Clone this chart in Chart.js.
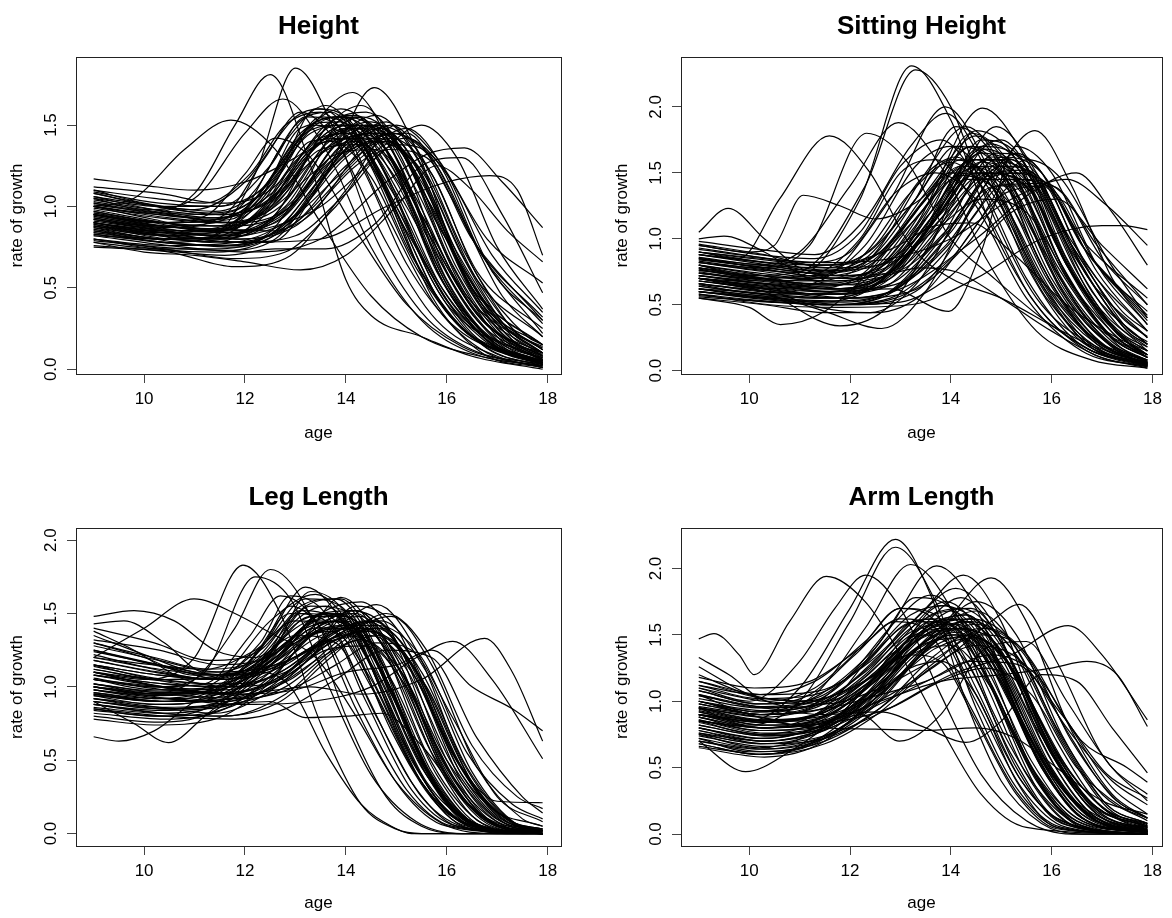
<!DOCTYPE html>
<html>
<head>
<meta charset="utf-8">
<script src="https://cdn.jsdelivr.net/npm/chart.js@4.4.1/dist/chart.umd.min.js"></script>
<style>
  body { margin: 0; background: #fff; }
  #wrap { position: relative; width: 1172px; height: 918px; }
  .panel { position: absolute; width: 586px; height: 459px; }
</style>
</head>
<body>
<div id="wrap">
  <div class="panel" style="left:0;top:0"><canvas id="c0" width="586" height="459"></canvas></div>
  <div class="panel" style="left:586px;top:0"><canvas id="c1" width="586" height="459"></canvas></div>
  <div class="panel" style="left:0;top:459px"><canvas id="c2" width="586" height="459"></canvas></div>
  <div class="panel" style="left:586px;top:459px"><canvas id="c3" width="586" height="459"></canvas></div>
</div>
<script>
const xTicks = [10, 12, 14, 16, 18];
const yTicksHeight = [0, 0.5, 1, 1.5];
const yTicksSitting = [0, 0.5, 1, 1.5, 2];
const yTicksLeg = [0, 0.5, 1, 1.5, 2];
const yTicksArm = [0, 0.5, 1, 1.5, 2];

const heightCurves = [
  [9,1.00, 10,0.96, 11,1.08, 11.8,1.50, 12.5,1.81, 13.3,1.25, 14,0.55, 14.5,0.33, 15.5,0.2, 16.5,0.08, 17.9,0.0],
  [9,0.92, 10.2,0.86, 11.3,0.82, 12.2,1.2, 13.0,1.85, 13.8,1.45, 14.6,0.8, 15.5,0.35, 16.5,0.12, 17.9,0.03],
  [9,0.88, 10.5,0.8, 12.5,0.78, 13.6,1.2, 14.56,1.73, 15.4,1.35, 16.3,0.6, 17.1,0.22, 17.9,0.08],
  [9,0.95, 10.4,0.9, 11.8,0.95, 13.2,1.45, 14.13,1.70, 15,1.3, 15.9,0.6, 16.8,0.2, 17.9,0.05],
  [9,1.05, 10,0.98, 11,1.05, 12,1.45, 12.75,1.66, 13.6,1.35, 14.5,0.75, 15.5,0.3, 16.5,0.1, 17.9,0.02],
  [9,0.85, 10.5,0.78, 11.8,0.9, 12.8,1.4, 13.6,1.62, 14.5,1.3, 15.4,0.65, 16.3,0.25, 17.9,0.04],
  [9,1.0, 9.8,1.05, 10.8,1.35, 11.72,1.53, 12.6,1.35, 13.5,0.9, 14.5,0.45, 15.5,0.2, 16.8,0.07, 17.9,0.02],
  [9,0.82, 10.5,0.76, 12,0.72, 13.5,0.8, 14.8,1.15, 15.6,1.32, 16.35,1.36, 17.1,1.15, 17.9,0.87],
  [9,0.9, 10.5,0.82, 12,0.78, 13.5,0.8, 14.8,1.0, 16,1.15, 16.85,1.19, 17.4,1.1, 17.9,0.7],
  [9,0.78, 10,0.72, 11,0.7, 12,0.66, 13.1,0.61, 14,0.7, 15,1.0, 15.8,1.25, 16.5,1.1, 17.2,0.85, 17.9,0.66],
  [9,1.17, 10,1.13, 11,1.1, 12,1.15, 13,1.3, 14,1.5, 14.8,1.45, 15.8,0.9, 16.8,0.4, 17.9,0.15],
  [9,0.75, 10.5,0.72, 11.8,0.63, 12.8,0.68, 14,1.1, 15,1.5, 15.8,1.3, 16.8,0.8, 17.9,0.53],
  [9,0.95, 10.3,0.88, 11.5,0.86, 12.8,1.1, 13.9,1.55, 14.8,1.35, 15.7,0.8, 16.7,0.3, 17.9,0.1],
  [9,1.1, 10,1.02, 11,0.98, 12,1.15, 13,1.55, 13.5,1.6, 14.4,1.3, 15.3,0.7, 16.3,0.25, 17.9,0.05],
  [9,0.9, 10.4,0.85, 11.6,0.88, 12.6,1.2, 13.4,1.5, 14.3,1.35, 15.2,0.85, 16.2,0.35, 17.9,0.06],
  [9,0.8, 10.2,0.74, 11.4,0.72, 12.7,0.85, 14,1.35, 14.8,1.52, 15.6,1.2, 16.6,0.55, 17.9,0.2],
  [9,1.02, 10.3,0.95, 11.5,0.92, 12.4,1.1, 13.3,1.45, 14.1,1.5, 15,1.15, 16,0.5, 17,0.15, 17.9,0.04],
  [9,0.86, 10.5,0.8, 12,0.82, 13,1.05, 14.2,1.48, 15,1.4, 15.9,0.85, 16.9,0.35, 17.9,0.12],
  [9,0.97, 10.2,0.9, 11.3,0.85, 12.3,0.95, 13.3,1.35, 14,1.45, 14.9,1.1, 15.8,0.55, 16.8,0.18, 17.9,0.03],
  [9,1.08, 10.3,1.0, 11.5,0.95, 12.6,1.05, 13.6,1.4, 14.5,1.42, 15.4,1.0, 16.4,0.45, 17.9,0.1],
  [9,0.83, 10.4,0.78, 11.8,0.75, 13,0.9, 14.3,1.3, 15.2,1.48, 16,1.2, 16.9,0.6, 17.9,0.3],
  [9,0.93, 10.2,0.88, 11.4,0.9, 12.2,1.1, 13,1.5, 13.7,1.58, 14.6,1.2, 15.5,0.6, 16.5,0.2, 17.9,0.03],
  [9,0.88, 10.4,0.84, 11.6,0.82, 12.9,1.0, 14,1.4, 14.7,1.45, 15.5,1.15, 16.5,0.5, 17.9,0.15],
  [9,1.0, 10.2,0.92, 11.3,0.86, 12.5,1.0, 13.5,1.35, 14.3,1.38, 15.2,1.0, 16.2,0.42, 17.2,0.12, 17.9,0.05],
  [9,0.79, 10.3,0.75, 11.6,0.73, 12.6,0.8, 13.5,1.15, 14.4,1.5, 15.2,1.35, 16.1,0.75, 17,0.3, 17.9,0.13],
  [9,0.95, 10.5,0.9, 11.7,0.92, 12.7,1.2, 13.5,1.55, 14.2,1.45, 15.1,0.9, 16,0.35, 17.9,0.03],
  [9,1.06, 10.2,0.98, 11.4,0.93, 12.4,1.02, 13.4,1.3, 14.6,1.56, 15.4,1.3, 16.3,0.7, 17.2,0.25, 17.9,0.1],
  [9,0.91, 10.4,0.85, 11.7,0.78, 12.9,0.9, 13.9,1.3, 14.9,1.5, 15.7,1.2, 16.6,0.6, 17.9,0.25],
  [9,0.87, 10.2,0.8, 11.4,0.76, 12.4,0.82, 13.2,1.15, 14,1.55, 14.8,1.4, 15.7,0.8, 16.7,0.3, 17.9,0.08],
  [9,1.1, 10.2,1.05, 11.2,1.02, 12.1,1.2, 12.8,1.5, 13.5,1.58, 14.3,1.25, 15.2,0.65, 16.2,0.25, 17.9,0.04],
  [9,0.98, 10.4,0.9, 11.5,0.85, 12.6,0.9, 13.8,1.3, 14.8,1.4, 15.7,1.0, 16.7,0.4, 17.9,0.15],
  [9,0.84, 10.3,0.8, 11.5,0.82, 12.5,1.05, 13.3,1.4, 14.1,1.42, 15,1.0, 16,0.42, 17,0.12, 17.9,0.03],
  [9,0.94, 10.5,0.86, 11.9,0.8, 13,0.88, 14.2,1.25, 15.2,1.42, 16,1.2, 16.9,0.7, 17.9,0.35],
  [9,0.89, 10.2,0.84, 11.3,0.85, 12.3,1.05, 13.1,1.48, 13.9,1.52, 14.8,1.1, 15.8,0.45, 16.8,0.13, 17.9,0.02],
  [9,1.03, 10.4,0.96, 11.6,0.9, 12.7,1.0, 13.8,1.45, 14.5,1.5, 15.4,1.1, 16.4,0.45, 17.9,0.08],
  [9,0.8, 10.4,0.74, 11.8,0.68, 12.8,0.72, 13.8,1.0, 14.8,1.35, 15.6,1.3, 16.5,0.8, 17.9,0.3],
  [9,0.96, 10.2,0.9, 11.2,0.94, 12,1.2, 12.6,1.42, 13.3,1.3, 14.2,0.85, 15.2,0.4, 16.3,0.14, 17.9,0.01],
  [9,0.9, 10.3,0.82, 11.3,0.78, 12,0.85, 13,1.28, 13.7,1.4, 14.5,1.18, 15.4,0.62, 16.4,0.22, 17.9,0.04],
  [9,1.12, 10.3,1.08, 11.5,1.02, 12.5,1.1, 13.5,1.45, 14.2,1.55, 15,1.3, 15.9,0.65, 16.9,0.2, 17.9,0.06],
  [9,0.85, 10.4,0.8, 11.9,0.78, 13,0.82, 14,1.08, 15,1.38, 15.8,1.28, 16.7,0.7, 17.9,0.22],
  [9,0.92, 10.5,0.87, 11.6,0.95, 12.4,1.3, 13.1,1.58, 13.8,1.4, 14.8,0.78, 15.8,0.3, 17,0.08, 17.9,0.01],
  [9,0.99, 10.3,0.93, 11.4,0.9, 12.4,0.96, 13.4,1.22, 14.4,1.45, 15.3,1.28, 16.2,0.72, 17.2,0.25, 17.9,0.1],
  [9,0.76, 10.3,0.73, 11.6,0.7, 12.6,0.74, 13.6,0.74, 14.6,0.9, 15.5,1.25, 16.3,1.3, 17.1,0.95, 17.9,0.47],
  [9,1.05, 10.3,1.0, 11.5,1.0, 12.5,1.25, 13.2,1.55, 13.9,1.48, 14.8,0.95, 15.8,0.38, 16.8,0.1, 17.9,0.02],
  [9,0.88, 10.3,0.82, 11.5,0.8, 12.5,0.92, 13.6,1.38, 14.5,1.52, 15.3,1.25, 16.2,0.62, 17.2,0.18, 17.9,0.06],
  [9,0.93, 10.4,0.86, 11.7,0.84, 12.8,0.96, 13.8,1.32, 14.6,1.35, 15.5,0.95, 16.5,0.38, 17.9,0.05],
  [9,1.0, 10.5,0.93, 11.8,0.9, 12.8,1.08, 13.6,1.48, 14.3,1.62, 15.1,1.3, 16,0.6, 17,0.18, 17.9,0.04],
  [9,0.82, 10.5,0.8, 12,0.85, 12.8,1.0, 13.6,1.35, 14.4,1.44, 15.3,1.1, 16.3,0.48, 17.3,0.14, 17.9,0.07],
  [9,0.9, 10.4,0.84, 11.6,0.83, 12.6,0.88, 13.5,1.0, 14.6,1.3, 15.5,1.5, 16.2,1.3, 17,0.75, 17.9,0.37],
  [9,1.08, 10.2,1.0, 11.3,0.96, 12.2,1.05, 13.0,1.4, 13.9,1.6, 14.7,1.4, 15.6,0.82, 16.6,0.3, 17.9,0.07],
  [9,0.95, 10.3,0.88, 11.7,0.86, 12.5,0.85, 13.3,0.95, 14.4,1.38, 15.2,1.45, 16.1,1.05, 17.1,0.45, 17.9,0.2],
  [9,0.87, 10.4,0.82, 11.6,0.86, 12.6,1.15, 13.4,1.6, 14.1,1.52, 15,1.0, 16,0.4, 17.9,0.05],
  [9,0.9, 10.3,0.84, 11.5,0.8, 12.6,0.95, 13.5,1.42, 14.2,1.5, 15,1.2, 15.9,0.55, 16.9,0.15, 17.9,0.03],
  [9,1.0, 10.3,0.95, 11.5,0.93, 12.5,1.05, 13.5,1.4, 14.3,1.55, 15.1,1.35, 16,0.7, 17,0.2, 17.9,0.06],
  [9,0.84, 10.4,0.78, 11.8,0.76, 12.9,0.92, 13.9,1.35, 14.7,1.48, 15.5,1.2, 16.4,0.55, 17.4,0.15, 17.9,0.08],
  [9,1.06, 10.3,1.0, 11.4,0.97, 12.3,1.1, 13.2,1.45, 13.9,1.5, 14.8,1.1, 15.7,0.45, 16.7,0.1, 17.9,0.01],
  [9,0.95, 10.4,0.88, 11.7,0.84, 12.8,0.95, 13.8,1.38, 14.6,1.5, 15.4,1.25, 16.3,0.6, 17.3,0.18, 17.9,0.09],
  [9,0.86, 10.2,0.8, 11.3,0.8, 12.3,0.92, 13.2,1.3, 14,1.48, 14.9,1.25, 15.8,0.6, 16.8,0.18, 17.9,0.04],
  [9,1.02, 10.4,0.96, 11.6,0.95, 12.6,1.1, 13.6,1.5, 14.4,1.58, 15.2,1.3, 16.1,0.65, 17.1,0.2, 17.9,0.1],
  [9,0.92, 10.3,0.86, 11.5,0.85, 12.4,0.98, 13.3,1.38, 14.1,1.45, 15,1.08, 15.9,0.5, 16.9,0.15, 17.9,0.03],
  [9,0.8, 10.4,0.76, 11.8,0.78, 13,0.95, 14,1.3, 14.9,1.45, 15.8,1.25, 16.7,0.7, 17.9,0.28],
  [9,1.09, 10.3,1.02, 11.4,1.0, 12.4,1.12, 13.4,1.5, 14.2,1.56, 15,1.22, 15.9,0.55, 16.9,0.15, 17.9,0.04],
  [9,0.88, 10.5,0.82, 11.9,0.8, 13,0.9, 14,1.25, 14.9,1.42, 15.7,1.2, 16.6,0.58, 17.6,0.2, 17.9,0.15],
  [9,0.97, 10.3,0.9, 11.5,0.88, 12.5,0.98, 13.4,1.3, 14.2,1.4, 15.1,1.12, 16,0.52, 17,0.14, 17.9,0.05],
  [9,0.83, 10.3,0.78, 11.5,0.76, 12.6,0.85, 13.7,1.25, 14.6,1.5, 15.4,1.35, 16.3,0.75, 17.3,0.25, 17.9,0.12],
  [9,1.04, 10.2,0.98, 11.3,0.95, 12.2,1.05, 13.1,1.45, 13.8,1.55, 14.6,1.3, 15.5,0.7, 16.5,0.22, 17.9,0.03],
  [9,0.9, 10.4,0.85, 11.7,0.82, 12.8,0.9, 13.9,1.2, 14.9,1.45, 15.7,1.3, 16.6,0.75, 17.9,0.32],
  [9,0.94, 10.3,0.88, 11.4,0.88, 12.4,1.05, 13.3,1.5, 14,1.55, 14.8,1.2, 15.7,0.55, 16.7,0.15, 17.9,0.02],
  [9,0.78, 10.3,0.74, 11.5,0.74, 12.6,0.85, 13.6,1.2, 14.5,1.4, 15.4,1.25, 16.3,0.65, 17.3,0.2, 17.9,0.1],
  [9,1.01, 10.5,0.95, 11.8,0.9, 12.9,1.0, 13.9,1.4, 14.7,1.45, 15.6,1.05, 16.6,0.42, 17.9,0.12],
  [9,0.89, 10.2,0.83, 11.4,0.84, 12.4,1.0, 13.3,1.35, 14.2,1.48, 15.1,1.2, 16,0.55, 17,0.15, 17.9,0.05],
  [9,0.96, 10.4,0.9, 11.6,0.88, 12.7,0.95, 13.7,1.28, 14.6,1.42, 15.5,1.22, 16.4,0.65, 17.4,0.22, 17.9,0.14]
];

const sittingCurves = [
  [9,0.75, 10,0.7, 11,0.72, 12.2,1.3, 13.22,2.31, 14,1.9, 14.8,1.1, 15.8,0.45, 16.8,0.15, 17.9,0.03],
  [9,0.8, 10,0.72, 11,0.75, 12.3,1.4, 13.3,2.28, 14,2.0, 14.7,1.3, 15.7,0.55, 16.8,0.2, 17.9,0.06],
  [9,0.7, 10.2,0.62, 11.4,0.68, 12.8,1.3, 13.89,2.0, 14.8,1.5, 15.8,0.7, 16.8,0.25, 17.9,0.08],
  [9,0.65, 10.4,0.58, 11.8,0.6, 13.3,1.1, 14.63,1.99, 15.5,1.6, 16.5,0.8, 17.3,0.35, 17.9,0.18],
  [9,0.85, 10,0.8, 11,0.9, 12,1.4, 12.96,1.88, 13.8,1.55, 14.7,0.85, 15.7,0.3, 16.8,0.08, 17.9,0.02],
  [9,0.9, 9.8,0.85, 10.6,1.3, 11.59,1.78, 12.4,1.5, 13.2,0.95, 14,0.7, 15,0.55, 16.2,0.3, 17.2,0.12, 17.9,0.05],
  [9,0.95, 10,0.9, 10.5,0.95, 11.07,1.33, 11.8,1.25, 12.5,1.15, 13.4,1.3, 14.2,1.6, 15,1.3, 16,0.6, 17,0.2, 17.9,0.05],
  [9,1.05, 9.58,1.23, 10.3,1.0, 11,0.78, 12,0.72, 13,0.9, 14,1.45, 14.8,1.55, 15.7,1.0, 16.7,0.4, 17.9,0.12],
  [9,0.82, 10.2,0.78, 11.2,0.95, 12.33,1.8, 13.1,1.6, 14,1.0, 14.8,0.72, 15.8,0.4, 16.8,0.15, 17.9,0.04],
  [9,0.6, 10.5,0.55, 12,0.5, 13.3,0.6, 14.5,1.2, 15.67,1.82, 16.4,1.4, 17.2,0.7, 17.9,0.35],
  [9,0.7, 10.3,0.62, 11.8,0.55, 13,0.62, 14.5,1.0, 15.6,1.35, 16.49,1.5, 17.2,1.2, 17.9,0.8],
  [9,0.58, 10.4,0.5, 11.8,0.48, 13.2,0.5, 14.5,0.7, 15.8,1.0, 17.0,1.1, 17.4,1.1, 17.9,1.07],
  [9,0.55, 10,0.48, 10.62,0.35, 11.5,0.45, 12.5,0.8, 13.5,1.3, 14.4,1.7, 15.2,1.4, 16.2,0.6, 17.2,0.18, 17.9,0.05],
  [9,0.62, 10.3,0.58, 11.5,0.45, 12.63,0.32, 13.5,0.6, 14.5,1.3, 15.3,1.65, 16,1.4, 16.9,0.75, 17.9,0.3],
  [9,0.68, 10.3,0.6, 11.8,0.34, 12.8,0.5, 13.8,1.1, 14.7,1.6, 15.5,1.5, 16.4,0.9, 17.3,0.4, 17.9,0.2],
  [9,0.72, 10.4,0.65, 11.6,0.6, 12.8,0.62, 13.96,0.45, 14.6,0.9, 15.3,1.7, 16,1.5, 16.9,0.8, 17.9,0.35],
  [9,0.78, 10.2,0.7, 11.3,0.68, 12.4,0.85, 13.5,1.5, 14.3,1.85, 15.1,1.5, 16,0.75, 17,0.25, 17.9,0.07],
  [9,0.9, 10.3,0.82, 11.5,0.75, 12.6,0.9, 13.6,1.4, 14.5,1.78, 15.3,1.45, 16.2,0.7, 17.2,0.22, 17.9,0.08],
  [9,0.66, 10.4,0.6, 11.6,0.58, 12.8,0.72, 14,1.35, 14.9,1.85, 15.7,1.5, 16.6,0.8, 17.5,0.3, 17.9,0.2],
  [9,0.74, 10.2,0.68, 11.4,0.64, 12.5,0.75, 13.6,1.2, 14.6,1.65, 15.4,1.5, 16.3,0.8, 17.3,0.28, 17.9,0.12],
  [9,0.85, 10.3,0.8, 11.5,0.78, 12.5,0.95, 13.4,1.45, 14.1,1.62, 14.9,1.3, 15.9,0.6, 16.9,0.2, 17.9,0.05],
  [9,0.62, 10.3,0.55, 11.6,0.5, 12.8,0.55, 13.9,0.9, 15,1.5, 15.8,1.45, 16.7,0.9, 17.9,0.4],
  [9,0.95, 10.2,0.88, 11.3,0.85, 12.2,1.05, 13,1.55, 13.8,1.75, 14.6,1.4, 15.5,0.7, 16.5,0.22, 17.9,0.04],
  [9,0.7, 10.4,0.66, 11.8,0.62, 12.9,0.78, 14,1.3, 14.8,1.72, 15.6,1.45, 16.5,0.75, 17.4,0.25, 17.9,0.1],
  [9,0.8, 10.3,0.72, 11.5,0.62, 12.6,0.7, 13.6,1.1, 14.6,1.55, 15.5,1.55, 16.4,0.95, 17.3,0.45, 17.9,0.25],
  [9,0.6, 10.2,0.55, 11.4,0.52, 12.4,0.62, 13.4,1.0, 14.4,1.6, 15.2,1.6, 16.1,0.95, 17,0.4, 17.9,0.12],
  [9,0.88, 10.4,0.8, 11.7,0.72, 12.8,0.8, 13.8,1.25, 14.7,1.68, 15.5,1.45, 16.4,0.75, 17.3,0.3, 17.9,0.15],
  [9,0.76, 10.2,0.72, 11.2,0.7, 12.2,0.85, 13.2,1.35, 14,1.58, 14.9,1.25, 15.9,0.55, 17,0.15, 17.9,0.03],
  [9,0.68, 10.5,0.62, 12,0.55, 13.2,0.6, 14.3,0.95, 15.4,1.45, 16.2,1.35, 17,0.85, 17.9,0.5],
  [9,0.98, 10.2,0.92, 11.3,0.88, 12.3,1.15, 13.2,1.7, 13.9,1.95, 14.6,1.6, 15.5,0.8, 16.5,0.25, 17.9,0.05],
  [9,0.72, 10.3,0.66, 11.6,0.6, 12.8,0.66, 13.8,1.0, 14.9,1.4, 15.8,1.4, 16.7,0.95, 17.9,0.55],
  [9,0.64, 10.2,0.58, 11.4,0.55, 12.6,0.68, 13.6,1.2, 14.5,1.55, 15.4,1.35, 16.3,0.7, 17.3,0.2, 17.9,0.06],
  [9,0.83, 10.4,0.76, 11.8,0.7, 13,0.78, 14,1.2, 15,1.62, 15.8,1.5, 16.6,0.95, 17.9,0.38],
  [9,0.7, 10.3,0.62, 11.4,0.48, 12.4,0.44, 13.3,0.65, 14.2,1.2, 15,1.55, 15.8,1.3, 16.8,0.55, 17.9,0.15],
  [9,0.92, 10.2,0.86, 11.2,0.82, 12,0.9, 12.9,1.35, 13.7,1.5, 14.6,1.25, 15.6,0.55, 16.7,0.15, 17.9,0.02],
  [9,0.57, 10.5,0.52, 11.8,0.5, 13,0.52, 14,0.72, 15.2,1.2, 16.1,1.3, 17,0.95, 17.9,0.62],
  [9,0.78, 10.3,0.7, 11.5,0.65, 12.7,0.72, 13.8,1.15, 14.8,1.5, 15.6,1.35, 16.5,0.7, 17.5,0.22, 17.9,0.12],
  [9,1.0, 9.5,1.02, 10.3,0.9, 11.3,0.68, 12.2,0.65, 13.2,0.9, 14.2,1.55, 15,1.75, 15.8,1.35, 16.8,0.6, 17.9,0.2],
  [9,0.66, 10.4,0.6, 11.8,0.58, 12.8,0.7, 13.8,1.2, 14.5,1.5, 15.3,1.3, 16.3,0.55, 17.3,0.15, 17.9,0.04],
  [9,0.86, 10.2,0.78, 11.3,0.72, 12.3,0.78, 13.3,1.15, 14.2,1.48, 15.1,1.3, 16.1,0.6, 17.1,0.18, 17.9,0.06],
  [9,0.74, 10.5,0.68, 12,0.62, 13.2,0.7, 14.2,1.05, 15.2,1.45, 16,1.38, 16.9,0.8, 17.9,0.45],
  [9,0.6, 10.3,0.54, 11.6,0.5, 12.6,0.56, 13.6,0.95, 14.6,1.75, 15.4,1.6, 16.3,0.8, 17.3,0.25, 17.9,0.1],
  [9,0.82, 10.3,0.76, 11.4,0.74, 12.4,0.85, 13.3,1.3, 14.1,1.85, 14.9,1.6, 15.8,0.8, 16.8,0.25, 17.9,0.07],
  [9,0.9, 10.3,0.85, 11.5,0.82, 12.8,0.85, 14,1.0, 15.2,1.3, 16.3,1.45, 17.1,1.25, 17.9,0.95],
  [9,0.7, 10.2,0.64, 11.3,0.6, 12.4,0.68, 13.5,1.2, 14.4,1.8, 15.2,1.55, 16.1,0.75, 17.1,0.22, 17.9,0.06],
  [9,0.96, 10.3,0.88, 11.6,0.78, 12.8,0.82, 13.8,1.1, 14.6,1.3, 15.5,1.2, 16.4,0.65, 17.4,0.22, 17.9,0.1],
  [9,0.62, 10.4,0.56, 11.7,0.52, 12.8,0.6, 13.8,1.0, 14.9,1.65, 15.7,1.55, 16.6,0.85, 17.5,0.32, 17.9,0.22],
  [9,0.77, 10.2,0.7, 11.2,0.72, 12.2,1.0, 13,1.5, 13.7,1.6, 14.5,1.25, 15.5,0.55, 16.6,0.15, 17.9,0.03],
  [9,0.55, 10.3,0.5, 11.5,0.44, 12.5,0.44, 13.5,0.6, 14.5,1.1, 15.5,1.6, 16.2,1.45, 17.1,0.85, 17.9,0.4],
  [9,0.84, 10.4,0.78, 11.8,0.72, 12.9,0.75, 14,1.1, 15,1.58, 15.8,1.4, 16.7,0.72, 17.9,0.25],
  [9,0.72, 10.3,0.68, 11.3,0.7, 12.3,0.95, 13.3,1.55, 14,1.7, 14.8,1.4, 15.7,0.7, 16.7,0.2, 17.9,0.04],
  [9,0.88, 10.3,0.82, 11.6,0.8, 12.8,0.92, 13.7,1.1, 14.4,1.12, 15.2,0.9, 16.3,0.5, 17.3,0.25, 17.9,0.15],
  [9,0.8, 10.3,0.7, 11.5,0.65, 12.5,0.7, 13.4,0.78, 14.1,0.75, 15,0.55, 16,0.3, 17,0.1, 17.9,0.03],
  [9,0.7, 10.3,0.64, 11.5,0.6, 12.6,0.7, 13.6,1.15, 14.5,1.6, 15.3,1.5, 16.2,0.8, 17.2,0.25, 17.9,0.1],
  [9,0.82, 10.3,0.75, 11.5,0.7, 12.6,0.8, 13.6,1.3, 14.4,1.7, 15.2,1.5, 16.1,0.75, 17.1,0.22, 17.9,0.07],
  [9,0.6, 10.4,0.55, 11.7,0.53, 12.9,0.62, 14,1.05, 15,1.55, 15.8,1.45, 16.7,0.8, 17.9,0.3],
  [9,0.76, 10.2,0.7, 11.3,0.66, 12.4,0.75, 13.4,1.2, 14.3,1.55, 15.1,1.4, 16,0.7, 17,0.2, 17.9,0.05],
  [9,0.9, 10.3,0.84, 11.5,0.8, 12.6,0.9, 13.6,1.35, 14.5,1.6, 15.3,1.35, 16.2,0.65, 17.2,0.2, 17.9,0.08],
  [9,0.66, 10.2,0.6, 11.4,0.58, 12.5,0.66, 13.5,1.05, 14.5,1.5, 15.4,1.45, 16.3,0.8, 17.3,0.3, 17.9,0.15],
  [9,0.74, 10.4,0.68, 11.7,0.62, 12.8,0.7, 13.8,1.15, 14.8,1.62, 15.6,1.5, 16.5,0.85, 17.5,0.3, 17.9,0.2],
  [9,0.86, 10.2,0.8, 11.3,0.76, 12.3,0.85, 13.2,1.25, 14,1.6, 14.8,1.45, 15.7,0.75, 16.7,0.22, 17.9,0.04],
  [9,0.58, 10.3,0.53, 11.5,0.5, 12.6,0.55, 13.7,0.9, 14.7,1.45, 15.5,1.5, 16.4,0.95, 17.4,0.4, 17.9,0.26],
  [9,0.8, 10.4,0.73, 11.6,0.68, 12.7,0.76, 13.7,1.2, 14.6,1.58, 15.4,1.42, 16.3,0.72, 17.3,0.22, 17.9,0.1],
  [9,0.68, 10.3,0.62, 11.5,0.58, 12.6,0.62, 13.6,0.98, 14.6,1.45, 15.5,1.52, 16.4,0.98, 17.4,0.45, 17.9,0.3],
  [9,0.93, 10.2,0.86, 11.3,0.8, 12.3,0.88, 13.3,1.3, 14.1,1.7, 14.9,1.55, 15.8,0.8, 16.8,0.25, 17.9,0.05],
  [9,0.72, 10.3,0.66, 11.5,0.62, 12.6,0.7, 13.6,1.1, 14.6,1.7, 15.4,1.6, 16.3,0.85, 17.3,0.28, 17.9,0.12],
  [9,0.64, 10.4,0.58, 11.7,0.55, 12.8,0.6, 13.9,0.95, 14.9,1.4, 15.8,1.42, 16.7,0.9, 17.9,0.42],
  [9,0.85, 10.3,0.78, 11.4,0.74, 12.4,0.82, 13.4,1.25, 14.2,1.55, 15,1.38, 15.9,0.7, 16.9,0.2, 17.9,0.06],
  [9,0.78, 10.3,0.72, 11.5,0.68, 12.6,0.75, 13.6,1.2, 14.5,1.82, 15.3,1.6, 16.2,0.8, 17.2,0.25, 17.9,0.1],
  [9,0.62, 10.2,0.57, 11.3,0.55, 12.4,0.62, 13.4,1.0, 14.3,1.45, 15.2,1.45, 16.1,0.8, 17.1,0.28, 17.9,0.12],
  [9,0.88, 10.4,0.82, 11.6,0.76, 12.7,0.82, 13.7,1.15, 14.7,1.5, 15.5,1.4, 16.4,0.75, 17.4,0.28, 17.9,0.18],
  [9,0.7, 10.2,0.65, 11.2,0.62, 12.2,0.72, 13.2,1.15, 14,1.5, 14.8,1.4, 15.7,0.72, 16.7,0.2, 17.9,0.04],
  [9,0.56, 10.4,0.52, 11.7,0.5, 12.9,0.55, 14,0.85, 15.1,1.35, 16,1.4, 16.9,0.95, 17.9,0.5]
];

const legCurves = [
  [9,1.1, 10,1.05, 11,1.2, 11.96,1.83, 12.7,1.5, 13.5,0.75, 14.3,0.2, 15,0.03, 15.5,0.0, 17.9,0.0],
  [9,1.0, 10,0.95, 11,1.05, 11.8,1.4, 12.5,1.8, 13.2,1.55, 14,0.8, 14.8,0.25, 15.5,0.05, 16.2,0.0, 17.9,0.0],
  [9,1.05, 10.2,1.0, 11.2,1.1, 12.2,1.75, 12.9,1.6, 13.6,1.05, 14.5,0.4, 15.4,0.08, 16.3,0.0, 17.9,0.0],
  [9,0.95, 10.3,0.9, 11.5,1.0, 12.4,1.3, 13.2,1.68, 14,1.4, 14.9,0.7, 15.8,0.2, 16.8,0.03, 17.9,0.0],
  [9,1.48, 9.8,1.52, 10.6,1.45, 11.4,1.25, 12.2,1.2, 13,1.35, 13.8,1.3, 14.6,0.8, 15.5,0.25, 16.5,0.03, 17.9,0.0],
  [9,1.2, 10,1.4, 10.99,1.6, 11.8,1.5, 12.6,1.35, 13.4,1.2, 14.2,0.8, 15,0.35, 15.9,0.07, 17,0.0, 17.9,0.0],
  [9,1.43, 9.6,1.45, 10.4,1.3, 11.2,1.1, 12,1.15, 12.9,1.5, 13.6,1.45, 14.4,0.9, 15.3,0.3, 16.2,0.05, 17.9,0.0],
  [9,0.95, 10.5,0.9, 12,0.95, 13.3,1.0, 14.3,0.95, 15.5,1.05, 16.75,1.33, 17.3,1.1, 17.9,0.63],
  [9,1.0, 10.5,0.92, 12,0.88, 13.3,0.9, 14.5,1.0, 15.4,1.2, 16.12,1.31, 16.9,1.05, 17.9,0.51],
  [9,1.1, 10.4,1.0, 11.8,0.95, 13,0.98, 14,1.1, 15,1.15, 15.7,1.25, 16.5,1.0, 17.3,0.85, 17.9,0.7],
  [9,0.66, 9.5,0.63, 10.2,0.7, 11,0.9, 12,1.05, 13,1.3, 13.8,1.45, 14.6,1.1, 15.5,0.45, 16.4,0.1, 17.3,0.01, 17.9,0.0],
  [9,0.9, 9.8,0.75, 10.48,0.62, 11.2,0.8, 12.2,1.1, 13.1,1.45, 13.9,1.5, 14.7,1.0, 15.6,0.35, 16.6,0.06, 17.9,0.0],
  [9,0.92, 10.4,0.85, 11.6,0.88, 12.5,0.9, 13.2,0.79, 14,0.8, 14.7,0.82, 15.5,0.6, 16.4,0.2, 17.2,0.04, 17.9,0.02],
  [9,1.02, 10.3,0.95, 11.5,1.05, 12.5,1.45, 13.4,1.63, 14.2,1.35, 15.1,0.65, 16,0.15, 17,0.01, 17.9,0.0],
  [9,1.15, 10.2,1.05, 11.3,1.0, 12.3,1.1, 13.2,1.35, 13.9,1.61, 14.7,1.3, 15.6,0.55, 16.5,0.12, 17.5,0.0, 17.9,0.0],
  [9,1.25, 10.3,1.15, 11.6,1.05, 12.8,1.15, 13.8,1.4, 14.61,1.56, 15.4,1.25, 16.3,0.5, 17.2,0.1, 17.9,0.03],
  [9,0.85, 10.2,0.8, 11.2,0.85, 12.2,1.1, 13,1.45, 13.6,1.55, 14.4,1.2, 15.3,0.5, 16.2,0.1, 17.2,0.0, 17.9,0.0],
  [9,1.3, 10,1.2, 11,1.08, 12,1.1, 12.8,1.3, 13.6,1.5, 14.4,1.3, 15.3,0.6, 16.2,0.15, 17.2,0.01, 17.9,0.0],
  [9,0.98, 10.3,0.92, 11.5,0.95, 12.4,1.2, 13.1,1.52, 13.8,1.45, 14.6,0.95, 15.5,0.35, 16.4,0.06, 17.9,0.0],
  [9,1.08, 10.4,1.02, 11.7,1.0, 12.8,1.12, 13.8,1.38, 14.6,1.45, 15.4,1.05, 16.3,0.4, 17.3,0.08, 17.9,0.03],
  [9,0.88, 10.3,0.82, 11.5,0.8, 12.7,0.9, 13.7,1.2, 14.6,1.42, 15.5,1.2, 16.4,0.55, 17.3,0.2, 17.9,0.1],
  [9,1.18, 10.2,1.1, 11.3,1.05, 12.3,1.3, 12.9,1.62, 13.6,1.5, 14.4,0.95, 15.3,0.35, 16.2,0.05, 17.9,0.0],
  [9,0.82, 10.4,0.78, 11.6,0.85, 12.6,1.1, 13.5,1.4, 14.3,1.48, 15.1,1.1, 16,0.4, 17,0.05, 17.9,0.0],
  [9,1.35, 10,1.22, 11,1.1, 12,1.08, 13,1.2, 14,1.35, 14.8,1.2, 15.7,0.55, 16.6,0.15, 17.6,0.02, 17.9,0.0],
  [9,1.0, 10.3,0.95, 11.4,0.98, 12.3,1.25, 12.9,1.55, 13.5,1.4, 14.3,0.85, 15.2,0.3, 16.1,0.05, 17.9,0.0],
  [9,0.94, 10.2,0.88, 11.4,0.92, 12.5,1.1, 13.5,1.3, 14.4,1.38, 15.3,1.15, 16.2,0.5, 17,0.22, 17.9,0.21],
  [9,1.12, 10.3,1.05, 11.5,1.08, 12.4,1.3, 13.2,1.6, 13.9,1.55, 14.7,1.05, 15.6,0.4, 16.5,0.08, 17.9,0.0],
  [9,0.9, 10.4,0.85, 11.7,0.88, 12.8,1.0, 13.9,1.3, 14.8,1.5, 15.6,1.25, 16.5,0.6, 17.4,0.25, 17.9,0.17],
  [9,1.05, 10.3,1.0, 11.6,0.95, 12.7,1.05, 13.6,1.25, 14.4,1.28, 15.2,1.0, 16.1,0.4, 17,0.08, 17.9,0.02],
  [9,1.22, 10.2,1.12, 11.3,1.05, 12.3,1.2, 13.2,1.55, 13.9,1.6, 14.7,1.2, 15.6,0.45, 16.5,0.08, 17.9,0.0],
  [9,0.96, 10.5,0.9, 11.8,0.92, 12.9,1.05, 14,1.35, 14.9,1.48, 15.7,1.15, 16.6,0.45, 17.5,0.1, 17.9,0.05],
  [9,1.38, 9.8,1.25, 10.8,1.05, 11.8,1.0, 12.7,1.2, 13.5,1.5, 14.2,1.45, 15,0.9, 15.9,0.25, 16.8,0.03, 17.9,0.0],
  [9,0.8, 10.2,0.76, 11.3,0.82, 12.2,1.05, 13,1.3, 13.7,1.38, 14.5,1.05, 15.4,0.4, 16.3,0.06, 17.9,0.0],
  [9,1.1, 10.3,1.0, 11.4,0.95, 12.3,1.0, 13.2,1.2, 14.1,1.52, 14.9,1.35, 15.8,0.6, 16.7,0.12, 17.9,0.0],
  [9,1.0, 10.4,0.96, 11.7,1.0, 12.6,1.2, 13.4,1.4, 14.1,1.4, 14.9,0.95, 15.8,0.3, 16.7,0.04, 17.9,0.0],
  [9,1.28, 10.3,1.18, 11.5,1.1, 12.6,1.15, 13.6,1.3, 14.5,1.38, 15.4,1.1, 16.3,0.45, 17.2,0.08, 17.9,0.02],
  [9,0.92, 10.3,0.86, 11.4,0.82, 12.4,0.95, 13.3,1.2, 14.2,1.55, 15,1.4, 15.9,0.7, 16.8,0.2, 17.9,0.05],
  [9,1.06, 10.2,1.0, 11.2,1.02, 12.1,1.35, 12.7,1.62, 13.4,1.45, 14.2,0.85, 15.1,0.3, 16,0.05, 17.9,0.0],
  [9,0.85, 10.4,0.8, 11.8,0.78, 12.8,0.85, 13.8,1.05, 14.8,1.25, 15.7,1.2, 16.6,0.65, 17.5,0.25, 17.9,0.14],
  [9,1.15, 10.3,1.08, 11.6,1.05, 12.6,1.2, 13.4,1.45, 14.1,1.42, 14.9,0.95, 15.8,0.3, 16.7,0.03, 17.9,0.0],
  [9,0.98, 10.4,0.92, 11.6,0.9, 12.6,1.0, 13.5,1.2, 14.3,1.32, 15.1,1.1, 16,0.5, 16.9,0.12, 17.9,0.01],
  [9,1.2, 10.2,1.15, 11.2,1.12, 12.2,1.25, 13,1.45, 13.7,1.42, 14.5,1.0, 15.4,0.4, 16.3,0.08, 17.9,0.0],
  [9,0.78, 10.2,0.74, 11.4,0.78, 12.4,1.0, 13.3,1.35, 14,1.42, 14.8,1.05, 15.7,0.38, 16.6,0.05, 17.9,0.0],
  [9,1.02, 10.5,0.95, 12,0.92, 13,1.0, 13.8,1.15, 14.6,1.3, 15.3,1.25, 16.1,0.8, 17,0.25, 17.9,0.08],
  [9,1.32, 10.3,1.25, 11.5,1.15, 12.4,1.2, 13.2,1.4, 13.9,1.45, 14.7,1.1, 15.6,0.4, 16.5,0.05, 17.9,0.0],
  [9,0.9, 10.3,0.85, 11.5,0.9, 12.5,1.2, 13.3,1.65, 14,1.5, 14.8,0.9, 15.7,0.28, 16.7,0.03, 17.9,0.0],
  [9,1.08, 10.4,1.02, 11.6,1.0, 12.7,1.05, 13.7,1.3, 14.6,1.4, 15.5,1.05, 16.5,0.35, 17.5,0.04, 17.9,0.02],
  [9,0.95, 10.2,0.9, 11.2,0.92, 12.2,1.15, 13,1.4, 13.7,1.5, 14.5,1.15, 15.4,0.45, 16.3,0.08, 17.9,0.0],
  [9,1.05, 10.2,0.98, 11.4,1.0, 12.3,1.1, 12.9,1.0, 13.6,0.55, 14.3,0.2, 14.9,0.05, 15.3,0.0, 17.9,0.0],
  [9,1.12, 10.4,1.05, 11.7,1.08, 12.7,1.25, 13.5,1.5, 14.2,1.52, 15,1.2, 15.9,0.5, 16.8,0.1, 17.9,0.0],
  [9,1.4, 10.2,1.3, 11.3,1.18, 12.3,1.25, 13.1,1.55, 13.8,1.6, 14.6,1.25, 15.5,0.5, 16.4,0.08, 17.9,0.0],
  [9,0.88, 10.4,0.82, 11.6,0.8, 12.8,0.95, 13.8,1.25, 14.7,1.35, 15.6,1.0, 16.5,0.35, 17.4,0.05, 17.9,0.02],
  [9,1.0, 10.3,0.95, 11.5,0.98, 12.5,1.2, 13.4,1.45, 14.2,1.5, 15,1.15, 15.9,0.45, 16.8,0.08, 17.9,0.0],
  [9,1.15, 10.3,1.08, 11.5,1.05, 12.5,1.15, 13.5,1.38, 14.3,1.42, 15.1,1.05, 16,0.38, 16.9,0.05, 17.9,0.0],
  [9,0.92, 10.4,0.88, 11.6,0.95, 12.6,1.18, 13.5,1.5, 14.3,1.58, 15.1,1.25, 16,0.5, 16.9,0.08, 17.9,0.01],
  [9,1.25, 10.2,1.15, 11.3,1.08, 12.3,1.15, 13.2,1.4, 14,1.45, 14.8,1.05, 15.7,0.38, 16.6,0.05, 17.9,0.0],
  [9,0.86, 10.3,0.82, 11.5,0.88, 12.5,1.1, 13.4,1.4, 14.2,1.52, 15,1.2, 15.9,0.48, 16.8,0.08, 17.9,0.0],
  [9,1.05, 10.4,0.98, 11.6,0.96, 12.6,1.05, 13.6,1.3, 14.5,1.45, 15.3,1.2, 16.2,0.5, 17.1,0.1, 17.9,0.02],
  [9,1.18, 10.3,1.1, 11.4,1.05, 12.4,1.2, 13.3,1.48, 14,1.48, 14.8,1.1, 15.7,0.42, 16.6,0.06, 17.9,0.0],
  [9,0.96, 10.2,0.92, 11.3,0.98, 12.3,1.22, 13.1,1.5, 13.8,1.48, 14.6,1.0, 15.5,0.35, 16.4,0.04, 17.9,0.0],
  [9,1.1, 10.4,1.04, 11.7,1.02, 12.8,1.1, 13.8,1.32, 14.7,1.4, 15.5,1.1, 16.4,0.45, 17.3,0.08, 17.9,0.03],
  [9,0.84, 10.3,0.8, 11.5,0.84, 12.5,1.0, 13.5,1.3, 14.4,1.45, 15.2,1.2, 16.1,0.55, 17,0.12, 17.9,0.02],
  [9,1.3, 10.2,1.2, 11.3,1.12, 12.3,1.18, 13.2,1.35, 14,1.4, 14.8,1.05, 15.7,0.4, 16.6,0.06, 17.9,0.0],
  [9,1.02, 10.3,0.97, 11.5,1.0, 12.5,1.25, 13.3,1.55, 14,1.52, 14.8,1.05, 15.7,0.38, 16.6,0.05, 17.9,0.0],
  [9,0.9, 10.4,0.86, 11.7,0.9, 12.8,1.05, 13.8,1.35, 14.7,1.45, 15.6,1.1, 16.5,0.42, 17.4,0.06, 17.9,0.02],
  [9,1.2, 10.3,1.12, 11.6,1.08, 12.6,1.15, 13.5,1.35, 14.3,1.4, 15.1,1.1, 16,0.45, 16.9,0.07, 17.9,0.0],
  [9,0.98, 10.2,0.94, 11.3,0.96, 12.3,1.12, 13.2,1.42, 13.9,1.5, 14.7,1.12, 15.6,0.42, 16.5,0.06, 17.9,0.0],
  [9,1.08, 10.4,1.0, 11.6,0.98, 12.6,1.08, 13.6,1.3, 14.5,1.35, 15.4,1.05, 16.3,0.4, 17.2,0.06, 17.9,0.01],
  [9,0.88, 10.3,0.84, 11.5,0.86, 12.5,1.05, 13.4,1.38, 14.1,1.42, 14.9,1.05, 15.8,0.4, 16.7,0.05, 17.9,0.0],
  [9,1.14, 10.2,1.06, 11.3,1.02, 12.3,1.12, 13.3,1.4, 14.1,1.5, 14.9,1.18, 15.8,0.48, 16.7,0.07, 17.9,0.0],
  [9,0.94, 10.4,0.9, 11.7,0.92, 12.8,1.08, 13.8,1.38, 14.6,1.42, 15.4,1.05, 16.3,0.35, 17.2,0.04, 17.9,0.0],
  [9,1.24, 10.3,1.15, 11.5,1.08, 12.5,1.12, 13.5,1.3, 14.4,1.4, 15.2,1.12, 16.1,0.48, 17,0.1, 17.9,0.02]
];

const armCurves = [
  [9,0.9, 10,0.85, 11,1.1, 12,1.7, 12.9,2.22, 13.6,1.8, 14.3,1.0, 15,0.4, 15.8,0.08, 16.6,0.0, 17.9,0.0],
  [9,0.95, 10,0.82, 11,1.0, 12,1.6, 12.9,2.16, 13.7,1.75, 14.5,0.95, 15.3,0.35, 16.2,0.05, 17.9,0.0],
  [9,1.0, 10.2,0.9, 11.3,1.05, 12.3,1.55, 13.2,2.03, 14,1.7, 14.8,0.95, 15.7,0.35, 16.6,0.06, 17.9,0.0],
  [9,0.85, 10.3,0.8, 11.5,0.95, 12.7,1.5, 13.72,2.02, 14.5,1.7, 15.3,0.95, 16.2,0.35, 17.1,0.08, 17.9,0.02],
  [9,1.1, 10,1.0, 11,1.3, 11.7,1.7, 12.31,1.95, 13,1.7, 13.8,1.05, 14.6,0.45, 15.5,0.1, 16.4,0.0, 17.9,0.0],
  [9,1.47, 9.3,1.51, 9.8,1.35, 10.1,1.2, 10.8,1.6, 11.53,1.94, 12.3,1.75, 13,1.35, 13.8,0.8, 14.6,0.3, 15.5,0.05, 17.9,0.0],
  [9,0.95, 10.3,0.88, 11.5,1.0, 12.6,1.35, 13.5,1.7, 14.25,1.95, 15,1.6, 15.8,0.8, 16.7,0.25, 17.9,0.05],
  [9,0.8, 10.3,0.72, 11.6,0.85, 12.8,1.2, 13.9,1.6, 14.8,1.93, 15.5,1.6, 16.3,0.85, 17.2,0.3, 17.9,0.12],
  [9,0.9, 10.3,0.8, 11.6,0.85, 12.8,1.05, 14,1.35, 14.8,1.6, 15.36,1.73, 16.1,1.3, 17,0.6, 17.9,0.25],
  [9,0.75, 10.3,0.68, 11.6,0.75, 12.8,0.95, 14,1.2, 15.2,1.35, 16.33,1.57, 17,1.35, 17.9,0.86],
  [9,0.88, 10.3,0.8, 11.5,0.85, 12.6,1.0, 13.8,1.15, 15,1.2, 16,1.25, 16.7,1.3, 17.3,1.2, 17.9,0.81],
  [9,0.7, 9.93,0.47, 10.8,0.62, 11.8,0.9, 12.8,1.3, 13.6,1.6, 14.4,1.5, 15.3,0.9, 16.2,0.35, 17.2,0.08, 17.9,0.02],
  [9,0.9, 10.3,0.85, 11.5,0.8, 12.5,0.79, 13.5,0.78, 14.5,0.8, 15.3,0.72, 16.1,0.5, 17,0.25, 17.9,0.15],
  [9,0.95, 10.2,0.88, 11.3,0.8, 12.2,0.9, 12.98,0.7, 13.8,0.9, 14.7,1.4, 15.5,1.45, 16.3,1.0, 17.2,0.5, 17.9,0.3],
  [9,1.05, 10.3,0.95, 11.5,0.9, 12.6,0.92, 13.5,0.8, 14.3,0.69, 15,0.85, 15.8,1.2, 16.5,1.15, 17.2,0.8, 17.9,0.46],
  [9,1.33, 9.6,1.2, 10.4,1.0, 11.3,1.1, 12.2,1.4, 13,1.7, 13.7,1.65, 14.5,1.1, 15.4,0.4, 16.3,0.08, 17.9,0.0],
  [9,1.26, 10,1.05, 11,0.95, 12,1.2, 12.9,1.6, 13.6,1.8, 14.3,1.55, 15.1,0.85, 16,0.25, 17,0.03, 17.9,0.0],
  [9,0.75, 10.2,0.65, 11.2,0.75, 12.2,1.05, 13.1,1.5, 13.9,1.75, 14.7,1.45, 15.6,0.7, 16.5,0.18, 17.9,0.02],
  [9,1.0, 10.2,0.92, 11.4,1.05, 12.5,1.4, 13.3,1.78, 14,1.7, 14.8,1.1, 15.7,0.35, 16.6,0.04, 17.9,0.0],
  [9,0.85, 10.2,0.75, 11.4,0.85, 12.5,1.15, 13.5,1.55, 14.3,1.65, 15.1,1.3, 16,0.6, 16.9,0.15, 17.9,0.03],
  [9,0.68, 10.2,0.6, 11.3,0.7, 12.3,1.0, 13.3,1.4, 14.1,1.55, 14.9,1.3, 15.8,0.6, 16.7,0.15, 17.9,0.02],
  [9,1.12, 10.2,1.05, 11.3,1.15, 12.3,1.45, 13,1.7, 13.7,1.6, 14.5,1.05, 15.4,0.4, 16.3,0.07, 17.9,0.0],
  [9,0.92, 10.3,0.82, 11.6,0.9, 12.7,1.25, 13.6,1.65, 14.4,1.7, 15.2,1.3, 16.1,0.55, 17,0.15, 17.9,0.04],
  [9,0.65, 10.3,0.58, 11.5,0.7, 12.5,1.05, 13.4,1.5, 14.1,1.62, 14.9,1.25, 15.8,0.5, 16.7,0.1, 17.9,0.01],
  [9,1.05, 10,0.9, 11,0.85, 12,1.0, 13,1.4, 13.8,1.72, 14.6,1.55, 15.4,0.9, 16.3,0.3, 17.2,0.06, 17.9,0.02],
  [9,0.8, 10.3,0.7, 11.5,0.78, 12.6,1.05, 13.6,1.45, 14.5,1.75, 15.3,1.5, 16.2,0.75, 17.1,0.22, 17.9,0.08],
  [9,0.98, 10.3,0.9, 11.5,1.0, 12.5,1.3, 13.3,1.6, 14,1.58, 14.8,1.1, 15.7,0.4, 16.6,0.05, 17.9,0.0],
  [9,0.72, 10,0.62, 11,0.65, 12,0.85, 13,1.2, 14,1.5, 14.8,1.42, 15.7,0.8, 16.6,0.3, 17.5,0.08, 17.9,0.05],
  [9,1.15, 10.3,1.05, 11.4,1.08, 12.4,1.3, 13.3,1.62, 14.1,1.85, 14.9,1.55, 15.8,0.7, 16.7,0.18, 17.9,0.02],
  [9,0.88, 10.2,0.78, 11.3,0.8, 12.3,1.05, 13.2,1.35, 14,1.42, 14.8,1.1, 15.7,0.45, 16.6,0.1, 17.9,0.01],
  [9,0.78, 10.3,0.68, 11.5,0.72, 12.6,0.95, 13.7,1.3, 14.7,1.55, 15.5,1.35, 16.4,0.7, 17.3,0.25, 17.9,0.12],
  [9,1.02, 10.2,0.95, 11.3,1.0, 12.2,1.25, 13,1.55, 13.6,1.62, 14.4,1.25, 15.3,0.5, 16.2,0.08, 17.9,0.0],
  [9,0.7, 10.2,0.64, 11.4,0.72, 12.5,0.98, 13.5,1.38, 14.4,1.6, 15.2,1.4, 16.1,0.7, 17,0.2, 17.9,0.05],
  [9,0.95, 10.3,0.86, 11.6,0.9, 12.7,1.1, 13.7,1.4, 14.5,1.48, 15.3,1.2, 16.2,0.55, 17.1,0.18, 17.9,0.08],
  [9,1.2, 10,1.05, 11,1.0, 12,1.1, 12.8,1.35, 13.5,1.5, 14.3,1.3, 15.2,0.6, 16.1,0.12, 17.9,0.0],
  [9,0.82, 10.3,0.74, 11.5,0.82, 12.5,1.1, 13.4,1.52, 14.2,1.7, 15,1.45, 15.9,0.75, 16.8,0.2, 17.9,0.03],
  [9,0.9, 10.4,0.84, 11.7,0.95, 12.8,1.25, 13.8,1.55, 14.7,1.5, 15.5,1.05, 16.4,0.45, 17.3,0.12, 17.9,0.05],
  [9,1.08, 10.2,0.98, 11.2,1.05, 12.1,1.35, 12.9,1.6, 13.6,1.5, 14.4,0.95, 15.3,0.32, 16.2,0.04, 17.9,0.0],
  [9,0.76, 10.3,0.7, 11.6,0.8, 12.7,1.0, 13.8,1.2, 14.8,1.35, 15.7,1.2, 16.6,0.7, 17.5,0.5, 17.9,0.39],
  [9,0.94, 10.3,0.85, 11.5,0.92, 12.5,1.15, 13.4,1.42, 14.2,1.48, 15,1.15, 15.9,0.5, 16.8,0.12, 17.9,0.02],
  [9,0.66, 10.3,0.6, 11.5,0.68, 12.6,0.92, 13.6,1.25, 14.5,1.42, 15.4,1.3, 16.3,0.8, 17.2,0.4, 17.9,0.22],
  [9,1.0, 10.3,0.93, 11.4,0.98, 12.4,1.18, 13.3,1.45, 14.1,1.55, 14.9,1.2, 15.8,0.5, 16.7,0.1, 17.9,0.01],
  [9,0.86, 10.2,0.78, 11.3,0.82, 12.3,1.0, 13.2,1.25, 13.8,1.3, 14.5,1.05, 15.3,0.4, 16.1,0.05, 17.9,0.0],
  [9,1.1, 10.3,1.0, 11.5,0.98, 12.6,1.1, 13.6,1.3, 14.6,1.5, 15.4,1.4, 16.3,0.85, 17.2,0.35, 17.9,0.15],
  [9,0.8, 10.2,0.72, 11.3,0.8, 12.3,1.05, 13.2,1.45, 13.9,1.58, 14.7,1.25, 15.6,0.55, 16.5,0.12, 17.9,0.01],
  [9,0.96, 10.3,0.9, 11.6,0.95, 12.6,1.05, 13.5,1.15, 14.4,1.3, 15.3,1.28, 16.2,0.9, 17.1,0.45, 17.9,0.27],
  [9,1.18, 10.1,1.1, 11.2,1.15, 12.2,1.4, 13,1.62, 13.7,1.55, 14.5,1.0, 15.4,0.35, 16.3,0.05, 17.9,0.0],
  [9,0.74, 10.3,0.66, 11.5,0.74, 12.5,1.0, 13.5,1.4, 14.4,1.62, 15.2,1.45, 16.1,0.8, 17,0.3, 17.9,0.1],
  [9,0.92, 10.2,0.84, 11.4,0.9, 12.4,1.15, 13.2,1.35, 13.8,1.3, 14.5,0.85, 15.3,0.3, 16.1,0.04, 17.9,0.0],
  [9,1.04, 10.3,0.96, 11.5,1.02, 12.5,1.2, 13.5,1.5, 14.3,1.6, 15.1,1.3, 16,0.62, 16.9,0.2, 17.9,0.06],
  [9,0.85, 10.4,0.8, 11.8,0.85, 12.8,0.95, 13.8,1.15, 14.7,1.25, 15.6,1.05, 16.5,0.5, 17.4,0.2, 17.9,0.12],
  [9,0.9, 10.3,0.8, 11.5,0.88, 12.5,1.15, 13.5,1.55, 14.3,1.65, 15.1,1.3, 16,0.6, 16.9,0.15, 17.9,0.03],
  [9,1.0, 10.2,0.9, 11.3,0.95, 12.3,1.2, 13.2,1.55, 14,1.68, 14.8,1.35, 15.7,0.6, 16.6,0.12, 17.9,0.01],
  [9,0.78, 10.3,0.7, 11.5,0.8, 12.5,1.08, 13.5,1.45, 14.3,1.6, 15.1,1.32, 16,0.65, 16.9,0.2, 17.9,0.06],
  [9,1.08, 10.2,0.98, 11.3,1.02, 12.3,1.3, 13.2,1.65, 13.9,1.72, 14.7,1.3, 15.6,0.5, 16.5,0.08, 17.9,0.0],
  [9,0.86, 10.3,0.76, 11.5,0.82, 12.6,1.1, 13.6,1.5, 14.5,1.68, 15.3,1.4, 16.2,0.72, 17.1,0.22, 17.9,0.08],
  [9,0.95, 10.2,0.86, 11.3,0.9, 12.3,1.15, 13.3,1.5, 14.1,1.58, 14.9,1.25, 15.8,0.55, 16.7,0.12, 17.9,0.02],
  [9,0.72, 10.3,0.64, 11.5,0.72, 12.6,1.0, 13.6,1.42, 14.5,1.58, 15.3,1.35, 16.2,0.7, 17.1,0.2, 17.9,0.06],
  [9,1.12, 10.2,1.02, 11.3,1.05, 12.3,1.28, 13.1,1.58, 13.8,1.62, 14.6,1.2, 15.5,0.45, 16.4,0.07, 17.9,0.0],
  [9,0.84, 10.3,0.75, 11.5,0.8, 12.5,1.05, 13.4,1.42, 14.2,1.55, 15,1.25, 15.9,0.55, 16.8,0.12, 17.9,0.02],
  [9,0.98, 10.3,0.9, 11.5,0.95, 12.6,1.2, 13.6,1.55, 14.4,1.62, 15.2,1.3, 16.1,0.6, 17,0.15, 17.9,0.04],
  [9,0.76, 10.2,0.68, 11.3,0.75, 12.3,1.0, 13.3,1.38, 14.1,1.5, 14.9,1.2, 15.8,0.52, 16.7,0.1, 17.9,0.01],
  [9,1.05, 10.3,0.95, 11.5,0.98, 12.5,1.22, 13.4,1.55, 14.2,1.78, 15,1.45, 15.9,0.7, 16.8,0.18, 17.9,0.03],
  [9,0.88, 10.2,0.8, 11.3,0.86, 12.3,1.12, 13.2,1.48, 13.9,1.55, 14.7,1.2, 15.6,0.5, 16.5,0.1, 17.9,0.01],
  [9,0.7, 10.3,0.62, 11.5,0.7, 12.6,0.95, 13.7,1.35, 14.6,1.55, 15.4,1.38, 16.3,0.78, 17.2,0.28, 17.9,0.12],
  [9,1.0, 10.2,0.92, 11.3,0.98, 12.3,1.22, 13.2,1.52, 13.9,1.58, 14.7,1.2, 15.6,0.48, 16.5,0.08, 17.9,0.0],
  [9,0.82, 10.3,0.74, 11.5,0.8, 12.6,1.05, 13.6,1.4, 14.4,1.5, 15.2,1.25, 16.1,0.62, 17,0.2, 17.9,0.07],
  [9,0.93, 10.2,0.85, 11.3,0.9, 12.3,1.18, 13.2,1.5, 14,1.62, 14.8,1.3, 15.7,0.58, 16.6,0.12, 17.9,0.02],
  [9,1.15, 10.3,1.02, 11.5,1.0, 12.5,1.2, 13.5,1.5, 14.3,1.55, 15.1,1.2, 16,0.5, 16.9,0.1, 17.9,0.01],
  [9,0.68, 10.2,0.6, 11.3,0.68, 12.3,0.95, 13.3,1.35, 14.1,1.52, 14.9,1.28, 15.8,0.6, 16.7,0.14, 17.9,0.02],
  [9,0.9, 10.3,0.82, 11.5,0.86, 12.5,1.1, 13.5,1.45, 14.3,1.55, 15.1,1.22, 16,0.55, 16.9,0.12, 17.9,0.03]
];

// ─── layout of the four panels ─────────────────────────────────
const FONT = "'Liberation Sans', Arial, Helvetica, sans-serif";
Chart.defaults.font.family = FONT;
Chart.defaults.color = '#000';

const panels = [
  { id: 'c0', title: 'Height',         curves: heightCurves,  yTicks: yTicksHeight,  xMin: 8.65,  xMax: 18.264, yMin: -0.029, yMax: 1.918, padLeft: 0,  padRight: 25, titleTop: 11.5, boxTop: 57, boxBottom: 374, tickPad: 6.5, agePad: 15.5 },
  { id: 'c1', title: 'Sitting Height', curves: sittingCurves, yTicks: yTicksSitting, xMin: 8.647, xMax: 18.19,  yMin: -0.025, yMax: 2.378, padLeft: 19, padRight: 10, titleTop: 11.5, boxTop: 57, boxBottom: 374, tickPad: 6.5, agePad: 15.5 },
  { id: 'c2', title: 'Leg Length',     curves: legCurves,     yTicks: yTicksLeg,     xMin: 8.65,  xMax: 18.264, yMin: -0.085, yMax: 2.083, padLeft: 0,  padRight: 25, titleTop: 23,   boxTop: 69, boxBottom: 387, tickPad: 6.5, agePad: 4.8 },
  { id: 'c3', title: 'Arm Length',     curves: armCurves,     yTicks: yTicksArm,     xMin: 8.647, xMax: 18.19,  yMin: -0.09,  yMax: 2.305, padLeft: 19, padRight: 10, titleTop: 23,   boxTop: 69, boxBottom: 387, tickPad: 6.5, agePad: 4.8 }
];

const boxPlugin = {
  id: 'plotBox',
  afterDraw(chart) {
    const { ctx, chartArea: a } = chart;
    ctx.save();
    ctx.strokeStyle = '#222';
    ctx.lineWidth = 1;
    ctx.strokeRect(Math.round(a.left) + 0.5, Math.round(a.top) + 0.5,
      Math.round(a.right) - Math.round(a.left), Math.round(a.bottom) - Math.round(a.top));
    ctx.restore();
  }
};

function toPoints(flat) {
  const pts = [];
  for (let i = 0; i < flat.length; i += 2) pts.push({ x: flat[i], y: flat[i + 1] });
  return pts;
}

panels.forEach(p => {
  const TITLE_SIZE = 26, LABEL_SIZE = 17;
  new Chart(document.getElementById(p.id), {
    type: 'line',
    data: {
      datasets: p.curves.map(c => ({
        data: toPoints(c),
        borderColor: '#000',
        borderWidth: 1.2,
        pointRadius: 0,
        fill: false,
        cubicInterpolationMode: 'monotone'
      }))
    },
    options: {
      responsive: false,
      animation: false,
      events: [],
      layout: { padding: { left: p.padLeft, right: p.padRight, top: 0, bottom: 0 } },
      plugins: {
        legend: { display: false },
        tooltip: { enabled: false },
        title: {
          display: true,
          text: p.title,
          fullSize: false,
          color: '#000',
          font: { size: TITLE_SIZE, weight: 'bold' },
          padding: { top: p.titleTop, bottom: p.boxTop - p.titleTop - TITLE_SIZE * 1.2 }
        }
      },
      scales: {
        x: {
          type: 'linear',
          min: p.xMin, max: p.xMax,
          afterBuildTicks: s => { s.ticks = xTicks.map(v => ({ value: v })); },
          afterFit: s => { s.height = 459 - p.boxBottom; },
          ticks: { autoSkip: false, maxRotation: 0, padding: p.tickPad, color: '#000', font: { size: LABEL_SIZE }, callback: v => String(v) },
          grid: { drawOnChartArea: false, drawTicks: true, tickLength: 9, color: '#444' },
          border: { display: true, color: '#222', width: 1 },
          title: { display: true, text: 'age', color: '#000', font: { size: LABEL_SIZE }, padding: { top: 0, bottom: p.agePad } }
        },
        y: {
          type: 'linear',
          min: p.yMin, max: p.yMax,
          afterBuildTicks: s => { s.ticks = p.yTicks.map(v => ({ value: v })); },
          afterFit: s => { s.width = 76; },
          ticks: { autoSkip: false, minRotation: 90, maxRotation: 90, crossAlign: 'center', padding: 4.2, color: '#000', font: { size: LABEL_SIZE }, callback: v => v.toFixed(1) },
          grid: { drawOnChartArea: false, drawTicks: true, tickLength: 9, color: '#444' },
          border: { display: true, color: '#222', width: 1 },
          title: { display: true, text: 'rate of growth', color: '#000', font: { size: LABEL_SIZE }, padding: { top: 6.8, bottom: 0 } }
        }
      }
    },
    plugins: [boxPlugin]
  });
});
</script>
</body>
</html>
